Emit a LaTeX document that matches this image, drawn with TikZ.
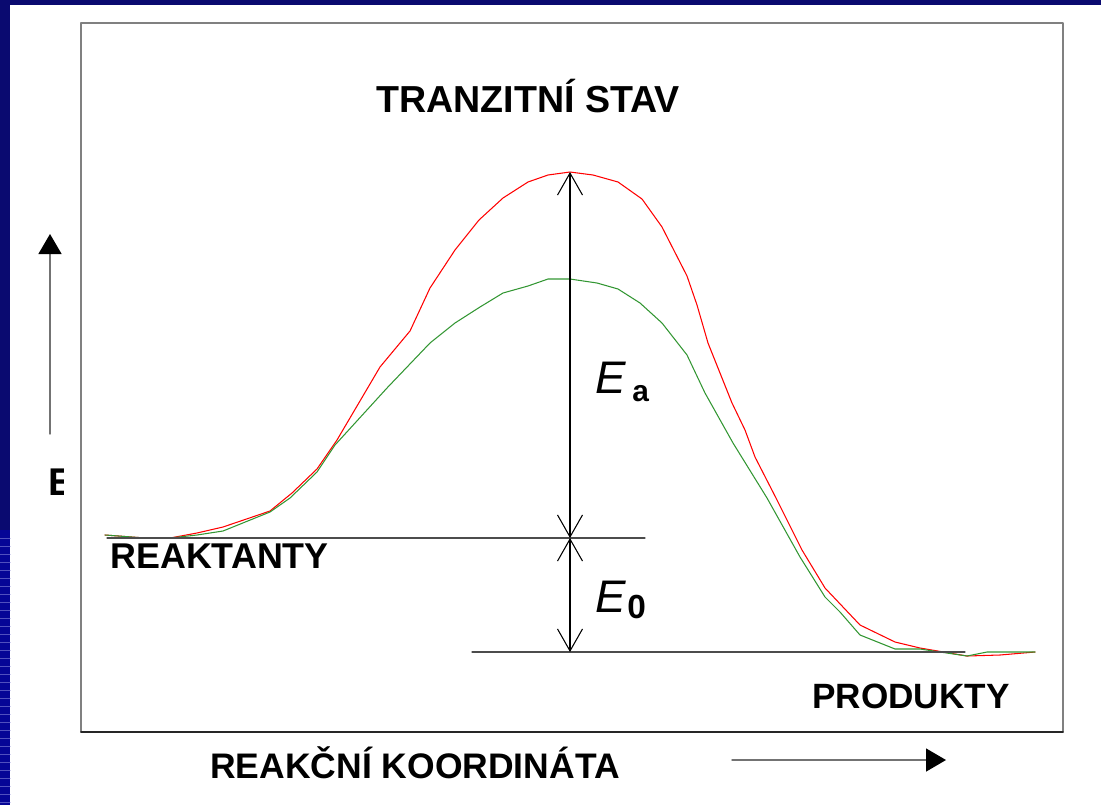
\documentclass[tikz,border=0pt]{standalone}
\usepackage{fontspec}
\setmainfont{Liberation Sans}
\usetikzlibrary{arrows.meta,positioning}
\definecolor{slidenavy}{RGB}{10,10,112}
\definecolor{slideblue}{RGB}{5,5,150}
\definecolor{slideline}{RGB}{80,80,190}
\definecolor{curvegreen}{RGB}{50,150,50}

\begin{document}
\begin{tikzpicture}[x=0.02cm, y=-0.02cm, line cap=round, line join=round,
    caption/.style={font=\fontsize{20}{24}\selectfont\bfseries, inner sep=0pt},
    level/.style={draw=black!70, line width=0.6pt},
    gap/.style={{Straight Barb[length=0.44cm,width=0.5cm]}-{Straight Barb[length=0.44cm,width=0.5cm]}, line width=0.6pt},
    axis/.style={-{Triangle[length=0.4cm,width=0.46cm,color=black]}, draw=black!55, line width=0.8pt}]

  \useasboundingbox (0,0) rectangle (1101,805);

  %--------------------------
  % Slide background
  %--------------------------
  \fill[slidenavy] (0,0) rectangle (10,530);
  \fill[slideblue] (0,530) rectangle (10,805);
  \foreach \y in {538,546,...,805}
    \draw[slideline, line width=0.3pt] (0,\y) -- (10,\y);
  \fill[slidenavy] (0,0) rectangle (1101,4.5);

  % Chart frame
  \draw[black!50, line width=1pt] (81,732) -- (81,23) -- (1063,23) -- (1063,732);
  \draw[black!85, line width=1pt] (81,732) -- (1063,732);

  %--------------------------
  % Axes
  %--------------------------
  \coordinate (ybot) at (50,434);
  \coordinate (ytop) at (50,234);
  \draw[axis] (ybot) -- (ytop);
  \begin{scope}
    \clip (20,440) rectangle (63,520);
    \node[caption, anchor=base west, font=\fontsize{22}{26}\selectfont\bfseries] (elabel) at (48,495) {E};
  \end{scope}

  \coordinate (xleft) at (732,760);
  \coordinate (xright) at (946,760);
  \draw[axis] (xleft) -- (xright);
  \node[caption, anchor=base west, font=\fontsize{20.2}{24}\selectfont\bfseries] (coord) at (210,778) {REAKČNÍ KOORDINÁTA};

  %--------------------------
  % Energy profiles
  %--------------------------
  \draw[red, line width=0.6pt] plot coordinates {
      (105,535) (145,538) (170,538) (197,533) (223,527) (270,511) (292,493)
      (317,469) (337,440) (380,367) (410,331) (430,288) (455,250) (479,220)
      (503,198) (528,182) (548,175) (570,172) (593,175) (618,182) (642,199)
      (662,227) (687,276) (697,305) (708,343) (732,403) (745,430) (755,457)
      (777,500) (802,550) (825,588) (860,625) (895,642) (920,648) (967,656)
      (1000,655) (1035,652)
  };
  \draw[curvegreen, line width=0.6pt] plot coordinates {
      (105,535) (145,538) (170,538) (197,535) (223,531) (270,512) (290,498)
      (317,472) (335,445) (387,388) (430,343) (455,323) (480,307) (503,293)
      (528,286) (548,279) (570,279) (597,283) (618,289) (640,303) (662,323)
      (687,355) (705,393) (733,443) (767,498) (800,557) (825,597) (840,612)
      (860,635) (895,649) (920,649) (967,656) (987,652) (1035,652)
  };

  %--------------------------
  % Levels and energy gaps
  %--------------------------
  \coordinate (rstart) at (107,538);
  \coordinate (rend) at (645,538);
  \coordinate (pstart) at (472,652);
  \coordinate (pend) at (965,652);
  \draw[level] (rstart) -- (rend);
  \draw[level] (pstart) -- (pend);

  \coordinate (peak) at (570,172);
  \coordinate (react) at (570,538);
  \coordinate (prod) at (570,652);
  \draw[gap] (react) -- (peak);
  \draw[gap] (prod) -- (react);

  \node[inner sep=0pt, anchor=base west, font=\fontsize{26}{30}\selectfont\itshape] (ea) at (595,393) {E};
  \node[inner sep=0pt, anchor=base west, font=\fontsize{17}{20}\selectfont\bfseries] (eas) at (632,401) {a};
  \node[inner sep=0pt, anchor=base west, font=\fontsize{26}{30}\selectfont\itshape] (ez) at (595,612) {E};
  \node[inner sep=0pt, anchor=base west, font=\fontsize{19}{22}\selectfont\bfseries] (ezs) at (627,618) {0};

  %--------------------------
  % Captions
  %--------------------------
  \node[caption, anchor=base, font=\fontsize{21.4}{25}\selectfont\bfseries] (transit) at (528,112) {TRANZITNÍ STAV};
  \node[caption, anchor=base west, font=\fontsize{20.4}{24}\selectfont\bfseries] (reactants) at (110,568) {REAKTANTY};
  \node[caption, anchor=base west] (products) at (812,708) {PRODUKTY};

\end{tikzpicture}
\end{document}
